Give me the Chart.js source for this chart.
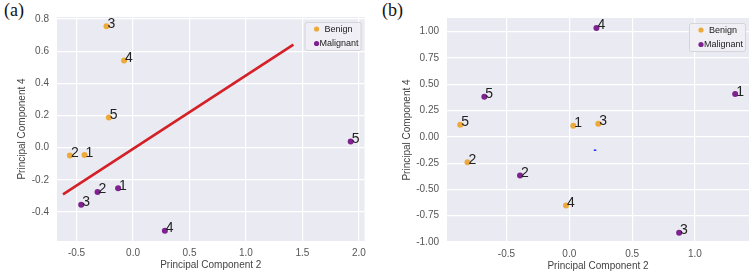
<!DOCTYPE html>
<html>
<head>
<meta charset="utf-8">
<script src="https://cdn.jsdelivr.net/npm/chart.js@4.4.1/dist/chart.umd.min.js"></script>
<style>
  body { margin: 0; background: #fff; width: 753px; height: 273px; overflow: hidden; position: relative; }
  .panel { position: absolute; top: 0; }
  .tag { position: absolute; top: 0; font-family: "Liberation Serif", "DejaVu Serif", serif; font-size: 18px; color: #111; }
</style>
</head>
<body>
<div class="tag" style="left:4px">(a)</div>
<div class="tag" style="left:382px">(b)</div>
<canvas id="chartA" class="panel" style="left:0px" width="372" height="273"></canvas>
<canvas id="chartB" class="panel" style="left:375px" width="378" height="273"></canvas>
<script>
// point numbers (same order in every array)
const ids = ["1", "2", "3", "4", "5"];

// (a)
const benignXA = [-0.429, -0.559, -0.235, -0.079, -0.214];
const benignYA = [-0.046, -0.048, 0.754, 0.542, 0.188];
const malignantXA = [-0.132, -0.314, -0.459, 0.282, 1.927];
const malignantYA = [-0.252, -0.275, -0.354, -0.517, 0.039];
const lineXA = [-0.62, 1.42];
const lineYA = [-0.29, 0.64];
const xTicksA = [-0.5, 0.0, 0.5, 1.0, 1.5, 2.0];
const yTicksA = [-0.4, -0.2, 0.0, 0.2, 0.4, 0.6, 0.8];

// (b)
const benignXB = [0.032, -0.81, 0.231, -0.026, -0.868];
const benignYB = [0.105, -0.241, 0.124, -0.654, 0.114];
const malignantXB = [1.32, -0.392, 0.874, 0.216, -0.676];
const malignantYB = [0.407, -0.368, -0.911, 1.035, 0.381];
const markXB = [0.195, 0.215];
const markYB = [-0.127, -0.127];
const xTicksB = [-0.5, 0.0, 0.5, 1.0];
const yTicksB = [-1.0, -0.75, -0.5, -0.25, 0.0, 0.25, 0.5, 0.75, 1.0];

const ORANGE = "#EDA93A";
const PURPLE = "#7E2290";
const FONT = "'Liberation Sans', Arial, sans-serif";

function pts(xs, ys) {
    return xs.map((x, i) => ({ x: x, y: ys[i] }));
}

// grey plot background
const bgPlugin = {
    id: "bg",
    beforeDraw(chart) {
        const a = chart.chartArea;
        const ctx = chart.ctx;
        ctx.save();
        ctx.fillStyle = "#EAEAF2";
        ctx.fillRect(a.left, a.top, a.right - a.left, a.bottom - a.top);
        ctx.restore();
    },
};

// numbers next to the dots
const numberPlugin = {
    id: "numbers",
    afterDatasetsDraw(chart) {
        const ctx = chart.ctx;
        ctx.save();
        ctx.font = "14px " + FONT;
        ctx.fillStyle = "#222";
        ctx.textAlign = "left";
        ctx.textBaseline = "alphabetic";
        chart.data.datasets.forEach((ds, di) => {
            if (!ds.numbers) return;
            chart.getDatasetMeta(di).data.forEach((p, i) => {
                ctx.fillText(ds.numbers[i], p.x + 1, p.y + 1.5);
            });
        });
        ctx.restore();
    },
};

// matplotlib style legend in the top right corner
const legendPlugin = {
    id: "boxLegend",
    afterDraw(chart) {
        const a = chart.chartArea;
        const ctx = chart.ctx;
        const w = 56, h = 28;
        const x0 = a.right - 4 - w, y0 = a.top + 5;
        ctx.save();
        ctx.fillStyle = "rgba(240,240,245,0.9)";
        ctx.strokeStyle = "#D4D4DA";
        ctx.lineWidth = 1;
        ctx.beginPath();
        ctx.roundRect(x0 + 0.5, y0 + 0.5, w, h, 2);
        ctx.fill();
        ctx.stroke();
        ctx.font = "9px " + FONT;
        ctx.fillStyle = "#222";
        ctx.textBaseline = "middle";
        const items = chart.data.datasets.filter((d) => d.numbers);
        items.forEach((ds, i) => {
            const cy = y0 + 7 + i * 14.5;
            ctx.beginPath();
            ctx.fillStyle = ds.backgroundColor;
            ctx.arc(x0 + 12, cy, 2.6, 0, Math.PI * 2);
            ctx.fill();
            ctx.fillStyle = "#222";
            ctx.fillText(ds.label, x0 + (i === 0 ? 20 : 15), cy + 0.5);
        });
        ctx.restore();
    },
};

function axis(ticks, min, max, title, size, isY, tickPad, titlePad) {
    return {
        type: "linear",
        min: min,
        max: max,
        afterBuildTicks(s) {
            s.ticks = ticks.map((v) => ({ value: v }));
        },
        afterFit(s) {
            if (isY) s.width = size;
            else s.height = size;
        },
        border: { display: false },
        grid: { color: "#FFFFFF", lineWidth: 1.2, drawTicks: false },
        ticks: {
            color: "#555",
            padding: tickPad,
            font: { family: FONT, size: 10 },
            callback(v) {
                return isY && ticks === yTicksB ? v.toFixed(2) : v.toFixed(1);
            },
        },
        title: {
            display: true,
            text: title,
            color: "#444",
            font: { family: FONT, size: 10 },
            padding: titlePad,
        },
    };
}

function makeChart(id, sets, xs, ys, pad) {
    return new Chart(document.getElementById(id).getContext("2d"), {
        type: "scatter",
        data: { datasets: sets },
        options: {
            responsive: false,
            animation: false,
            devicePixelRatio: 1,
            layout: { padding: pad },
            plugins: { legend: { display: false }, tooltip: { enabled: false } },
            scales: { x: xs, y: ys },
        },
        plugins: [bgPlugin, numberPlugin, legendPlugin],
    });
}

function dotSet(label, xs, ys, color) {
    return {
        label: label,
        data: pts(xs, ys),
        numbers: ids,
        backgroundColor: color,
        borderWidth: 0,
        pointRadius: 3,
    };
}

makeChart(
    "chartA",
    [
        {
            type: "line",
            label: "fit",
            data: pts(lineXA, lineYA),
            borderColor: "#D42027",
            borderWidth: 2.6,
            pointRadius: 0,
            order: 5,
        },
        dotSet("Benign", benignXA, benignYA, ORANGE),
        dotSet("Malignant", malignantXA, malignantYA, PURPLE),
    ],
    axis(xTicksA, -0.673, 2.05, "Principal Component 2", 32, false, 6, { top: 0, bottom: 2 }),
    axis(yTicksA, -0.58, 0.812, "Principal Component 4", 41, true, 8, { top: 0, bottom: 0 }),
    { left: 16, top: 17, right: 7, bottom: 0 }
);

makeChart(
    "chartB",
    [
        {
            type: "line",
            label: "mark",
            data: pts(markXB, markYB),
            borderColor: "#2A3BF0",
            borderWidth: 1.6,
            pointRadius: 0,
            order: 5,
        },
        dotSet("Benign", benignXB, benignYB, ORANGE),
        dotSet("Malignant", malignantXB, malignantYB, PURPLE),
    ],
    axis(xTicksB, -0.973, 1.43, "Principal Component 2", 31, false, 6, { top: 0, bottom: 1 }),
    axis(yTicksB, -1.0, 1.13, "Principal Component 4", 46, true, 8, { top: 0, bottom: 0 }),
    { left: 26, top: 18, right: 2, bottom: 0 }
);
</script>
</body>
</html>
